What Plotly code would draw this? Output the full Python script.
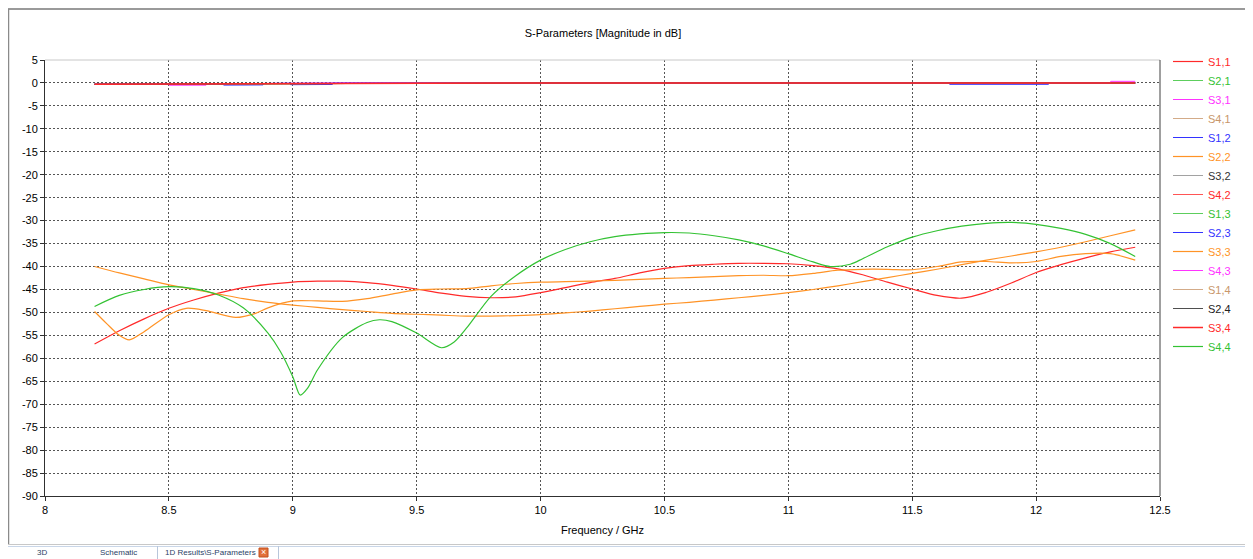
import plotly.graph_objects as go

# ---------------- data ----------------
x_tick_vals = [8, 8.5, 9, 9.5, 10, 10.5, 11, 11.5, 12, 12.5]
x_tick_labels = ["8", "8.5", "9", "9.5", "10", "10.5", "11", "11.5", "12", "12.5"]
y_tick_vals = [5, 0, -5, -10, -15, -20, -25, -30, -35, -40, -45, -50, -55, -60, -65, -70, -75, -80, -85, -90]
y_tick_labels = ["5", "0", "-5", "-10", "-15", "-20", "-25", "-30", "-35", "-40", "-45", "-50", "-55",
                 "-60", "-65", "-70", "-75", "-80", "-85", "-90"]

# near 0 dB transmission curves
freq_near = [8.2, 8.5, 8.65, 8.72, 8.88, 9.0, 9.16, 9.4, 10.0, 11.0, 11.65, 12.05, 12.3, 12.4]
near_base = [-0.28, -0.22, -0.19, -0.17, -0.13, -0.08, -0.03, 0.0, 0.0, 0.0, 0.0, 0.0, 0.0, 0.0]
freq_s31 = [8.2, 8.5, 8.501, 8.65, 8.651, 9.4, 12.4]
s31 = [-0.28, -0.22, -0.5, -0.48, -0.19, 0.0, 0.0]
freq_s12 = [8.2, 8.72, 8.721, 8.88, 8.881, 8.99, 8.991, 9.16, 9.161, 9.4, 12.4]
s12 = [-0.28, -0.17, -0.47, -0.43, -0.13, -0.08, -0.38, -0.33, -0.03, 0.0, 0.0]
freq_s23 = [8.2, 9.4, 11.65, 11.651, 12.05, 12.051, 12.4]
s23 = [-0.28, 0.0, 0.0, -0.3, -0.3, 0.0, 0.0]
freq_s43 = [8.2, 9.4, 12.3, 12.301, 12.4]
s43 = [-0.28, 0.0, 0.0, 0.35, 0.35]

# low reflection curves
freq_s11 = [8.2, 8.3, 8.4, 8.5, 8.6, 8.7, 8.8, 8.9, 9.0, 9.1, 9.2, 9.3, 9.4, 9.5, 9.6, 9.7, 9.8, 9.9,
            10.0, 10.1, 10.2, 10.3, 10.4, 10.5, 10.6, 10.7, 10.8, 10.9, 11.0, 11.1, 11.2, 11.3, 11.4,
            11.5, 11.6, 11.7, 11.8, 11.9, 12.0, 12.1, 12.2, 12.3, 12.4]
s11 = [-56.9, -54.0, -51.4, -49.1, -47.3, -45.8, -44.6, -43.9, -43.4, -43.2, -43.2, -43.5, -44.1,
       -44.9, -45.8, -46.5, -46.8, -46.6, -45.7, -44.6, -43.5, -42.6, -41.4, -40.4, -39.8, -39.5,
       -39.3, -39.3, -39.4, -39.8, -40.5, -41.8, -43.4, -44.9, -46.3, -46.9, -45.6, -43.6, -41.3,
       -39.6, -38.1, -36.8, -35.8]

freq_s22 = freq_s11
s22 = [-40.0, -41.4, -42.7, -44.0, -45.0, -46.0, -47.0, -47.8, -48.4, -48.9, -49.4, -49.8, -50.2,
       -50.4, -50.6, -50.8, -50.8, -50.7, -50.5, -50.1, -49.7, -49.2, -48.7, -48.2, -47.8, -47.3,
       -46.8, -46.3, -45.7, -45.0, -44.2, -43.3, -42.4, -41.5, -40.6, -39.6, -38.6, -37.7, -36.8,
       -35.8, -34.6, -33.3, -32.0]

freq_s33 = [8.2, 8.25, 8.3, 8.34, 8.4, 8.5, 8.57, 8.65, 8.77, 8.85, 8.9, 9.0, 9.1, 9.2, 9.3, 9.4,
            9.5, 9.6, 9.7, 9.8, 9.9, 10.0, 10.1, 10.2, 10.3, 10.4, 10.5, 10.6, 10.7, 10.8, 10.9,
            11.0, 11.1, 11.2, 11.3, 11.4, 11.5, 11.6, 11.7, 11.8, 11.9, 12.0, 12.1, 12.2, 12.3, 12.4]
s33 = [-49.8, -52.5, -55.0, -56.0, -54.2, -50.5, -49.1, -49.6, -51.1, -50.2, -49.0, -47.5, -47.5,
       -47.6, -47.0, -46.0, -45.1, -44.9, -44.8, -44.2, -43.7, -43.4, -43.3, -43.2, -43.0, -42.8,
       -42.6, -42.4, -42.2, -42.0, -41.9, -42.0, -41.5, -40.8, -40.6, -40.6, -40.7, -40.0, -39.0,
       -38.9, -39.2, -38.9, -37.8, -37.2, -37.2, -38.6]

freq_s44 = [8.2, 8.3, 8.4, 8.5, 8.6, 8.7, 8.8, 8.9, 8.95, 9.0, 9.03, 9.06, 9.1, 9.2, 9.3, 9.35, 9.4,
            9.5, 9.6, 9.65, 9.7, 9.8, 9.9, 10.0, 10.1, 10.2, 10.3, 10.4, 10.5, 10.6, 10.7, 10.8,
            10.9, 11.0, 11.1, 11.17, 11.25, 11.3, 11.4, 11.5, 11.6, 11.7, 11.8, 11.9, 12.0, 12.1,
            12.2, 12.3, 12.4]
s44 = [-48.7, -46.3, -45.0, -44.4, -44.8, -46.2, -49.0, -54.5, -58.5, -64.0, -68.0, -66.5, -62.5,
       -55.5, -52.2, -51.6, -52.0, -54.5, -57.7, -56.5, -53.5, -46.5, -42.0, -38.6, -36.3, -34.6,
       -33.5, -32.9, -32.6, -32.7, -33.3, -34.2, -35.5, -37.2, -39.0, -40.0, -39.5, -38.3, -35.7,
       -33.6, -32.2, -31.2, -30.6, -30.4, -30.8, -31.7, -33.0, -35.0, -37.8]

RED, GREEN, MAG, TAN = "#ff2a2a", "#33c233", "#ff33ff", "#c8966a"
BLUE, ORANGE, GRAY, BLACK = "#3333ff", "#ff9326", "#8a8a8a", "#222222"

# (label, color, text color, x, y, smooth, width)
series = [
    ("S1,1", RED, RED, freq_s11, s11, True, 1.2),
    ("S2,1", GREEN, GREEN, freq_near, near_base, False, 0.8),
    ("S3,1", MAG, MAG, freq_s31, s31, False, 1.0),
    ("S4,1", TAN, TAN, freq_near, near_base, False, 0.8),
    ("S1,2", BLUE, BLUE, freq_s12, s12, False, 1.0),
    ("S2,2", ORANGE, ORANGE, freq_s22, s22, True, 1.2),
    ("S3,2", GRAY, "#333333", freq_near, near_base, False, 0.8),
    ("S4,2", RED, RED, freq_near, near_base, False, 0.8),
    ("S1,3", GREEN, GREEN, freq_near, near_base, False, 0.8),
    ("S2,3", BLUE, BLUE, freq_s23, s23, False, 1.0),
    ("S3,3", ORANGE, ORANGE, freq_s33, s33, True, 1.2),
    ("S4,3", MAG, MAG, freq_s43, s43, False, 1.0),
    ("S1,4", TAN, TAN, freq_near, near_base, False, 0.8),
    ("S2,4", BLACK, BLACK, freq_near, near_base, False, 0.8),
    ("S3,4", RED, RED, freq_near, near_base, False, 1.5),
    ("S4,4", GREEN, GREEN, freq_s44, s44, True, 1.2),
]

FONT = "Liberation Sans, Arial, sans-serif"

fig = go.Figure()
for label, col, tcol, xs, ys, smooth, lw in series:
    fig.add_trace(go.Scatter(
        x=xs, y=ys, mode="lines",
        name=f"<span style='color:{tcol}'>{label}</span>",
        line=dict(color=col, width=lw, shape="spline" if smooth else "linear", smoothing=0.8),
        hoverinfo="x+y",
    ))

# page pixel geometry (page has an 8px body margin before the figure)
OFF = 8
L, R, T, B = 45, 1160, 60, 496          # plot area in page pixels
W, H = 1253 - OFF, 559 - OFF            # figure size


def px(xp):
    return (xp - L) / (R - L)


def py(yp):
    return (B - yp) / (B - T)


def hline(x0, x1, y, color, width=1):
    return dict(type="line", xref="paper", yref="paper", x0=px(x0), x1=px(x1), y0=py(y), y1=py(y),
                line=dict(color=color, width=width))


def vline(x, y0, y1, color, width=1):
    return dict(type="line", xref="paper", yref="paper", x0=px(x), x1=px(x), y0=py(y0), y1=py(y1),
                line=dict(color=color, width=width))


shapes = [
    dict(type="line", xref="paper", yref="paper", x0=0, x1=1, y0=1, y1=1,
         line=dict(color="#c8c8c8", width=1)),
    dict(type="line", xref="paper", yref="paper", x0=1, x1=1, y0=0, y1=1,
         line=dict(color="#404040", width=1)),
    # outer window frame
    hline(8, 1253, 9, "#9a9a9a", 2),
    vline(8.5, 9, 545, "#8a8a8a", 1.5),
    vline(1250.5, 9, 545, "#d0d0d0", 1),
    hline(8, 1250, 544.5, "#c8c8c8", 1),
    hline(8, 1253, 546.5, "#c9d6e8", 1),
    # tab separators
    vline(157.5, 546, 559, "#b8c6da", 1),
    vline(278.5, 546, 559, "#b8c6da", 1),
    # close icon box
    dict(type="rect", xref="paper", yref="paper", x0=px(259), x1=px(268), y0=py(548), y1=py(557),
         fillcolor="#e2703a", line=dict(color="#c05020", width=1)),
]

TAB_FONT = dict(family=FONT, size=8, color="#2b3f66")
annotations = [
    dict(text="3D", x=px(42), y=py(552.5), xref="paper", yref="paper", showarrow=False,
         xanchor="center", yanchor="middle", font=TAB_FONT),
    dict(text="Schematic", x=px(118), y=py(552.5), xref="paper", yref="paper", showarrow=False,
         xanchor="center", yanchor="middle", font=TAB_FONT),
    dict(text="1D Results\\S-Parameters", x=px(210), y=py(552.5), xref="paper", yref="paper",
         showarrow=False, xanchor="center", yanchor="middle", font=TAB_FONT),
    dict(text="×", x=px(263.5), y=py(552.3), xref="paper", yref="paper", showarrow=False,
         xanchor="center", yanchor="middle", font=dict(family=FONT, size=9, color="white")),
]

fig.update_layout(
    width=W, height=H,
    margin=dict(l=L - OFF, r=(W + OFF) - R, t=T - OFF, b=(H + OFF) - B, autoexpand=False),
    paper_bgcolor="white", plot_bgcolor="white",
    font=dict(family=FONT, size=11, color="#000000"),
    title=dict(text="S-Parameters [Magnitude in dB]", x=px(603), xanchor="center", xref="paper",
               y=1 - (33 - OFF) / H, yanchor="middle", font=dict(family=FONT, size=11, color="#000")),
    xaxis=dict(range=[8, 12.5], tickvals=x_tick_vals, ticktext=x_tick_labels,
               showgrid=True, gridcolor="#555555", griddash="2px,2px", gridwidth=1,
               showline=True, linecolor="#303030", linewidth=1, zeroline=False,
               ticks="outside", ticklen=4, tickcolor="#303030",
               title=dict(text="Frequency / GHz", standoff=11, font=dict(size=11)),
               tickfont=dict(size=11)),
    yaxis=dict(range=[-90, 5], tickvals=y_tick_vals, ticktext=y_tick_labels,
               showgrid=True, gridcolor="#555555", griddash="2px,2px", gridwidth=1,
               showline=True, linecolor="#303030", linewidth=1, zeroline=False,
               ticks="outside", ticklen=4, tickcolor="#303030", tickfont=dict(size=11)),
    legend=dict(x=px(1168), xanchor="left", y=py(204), yanchor="middle",
                bgcolor="rgba(0,0,0,0)", borderwidth=0, itemwidth=30,
                font=dict(family=FONT, size=11), tracegroupgap=0),
    shapes=shapes,
    annotations=annotations,
    showlegend=True,
)

fig.write_html("out.html")
